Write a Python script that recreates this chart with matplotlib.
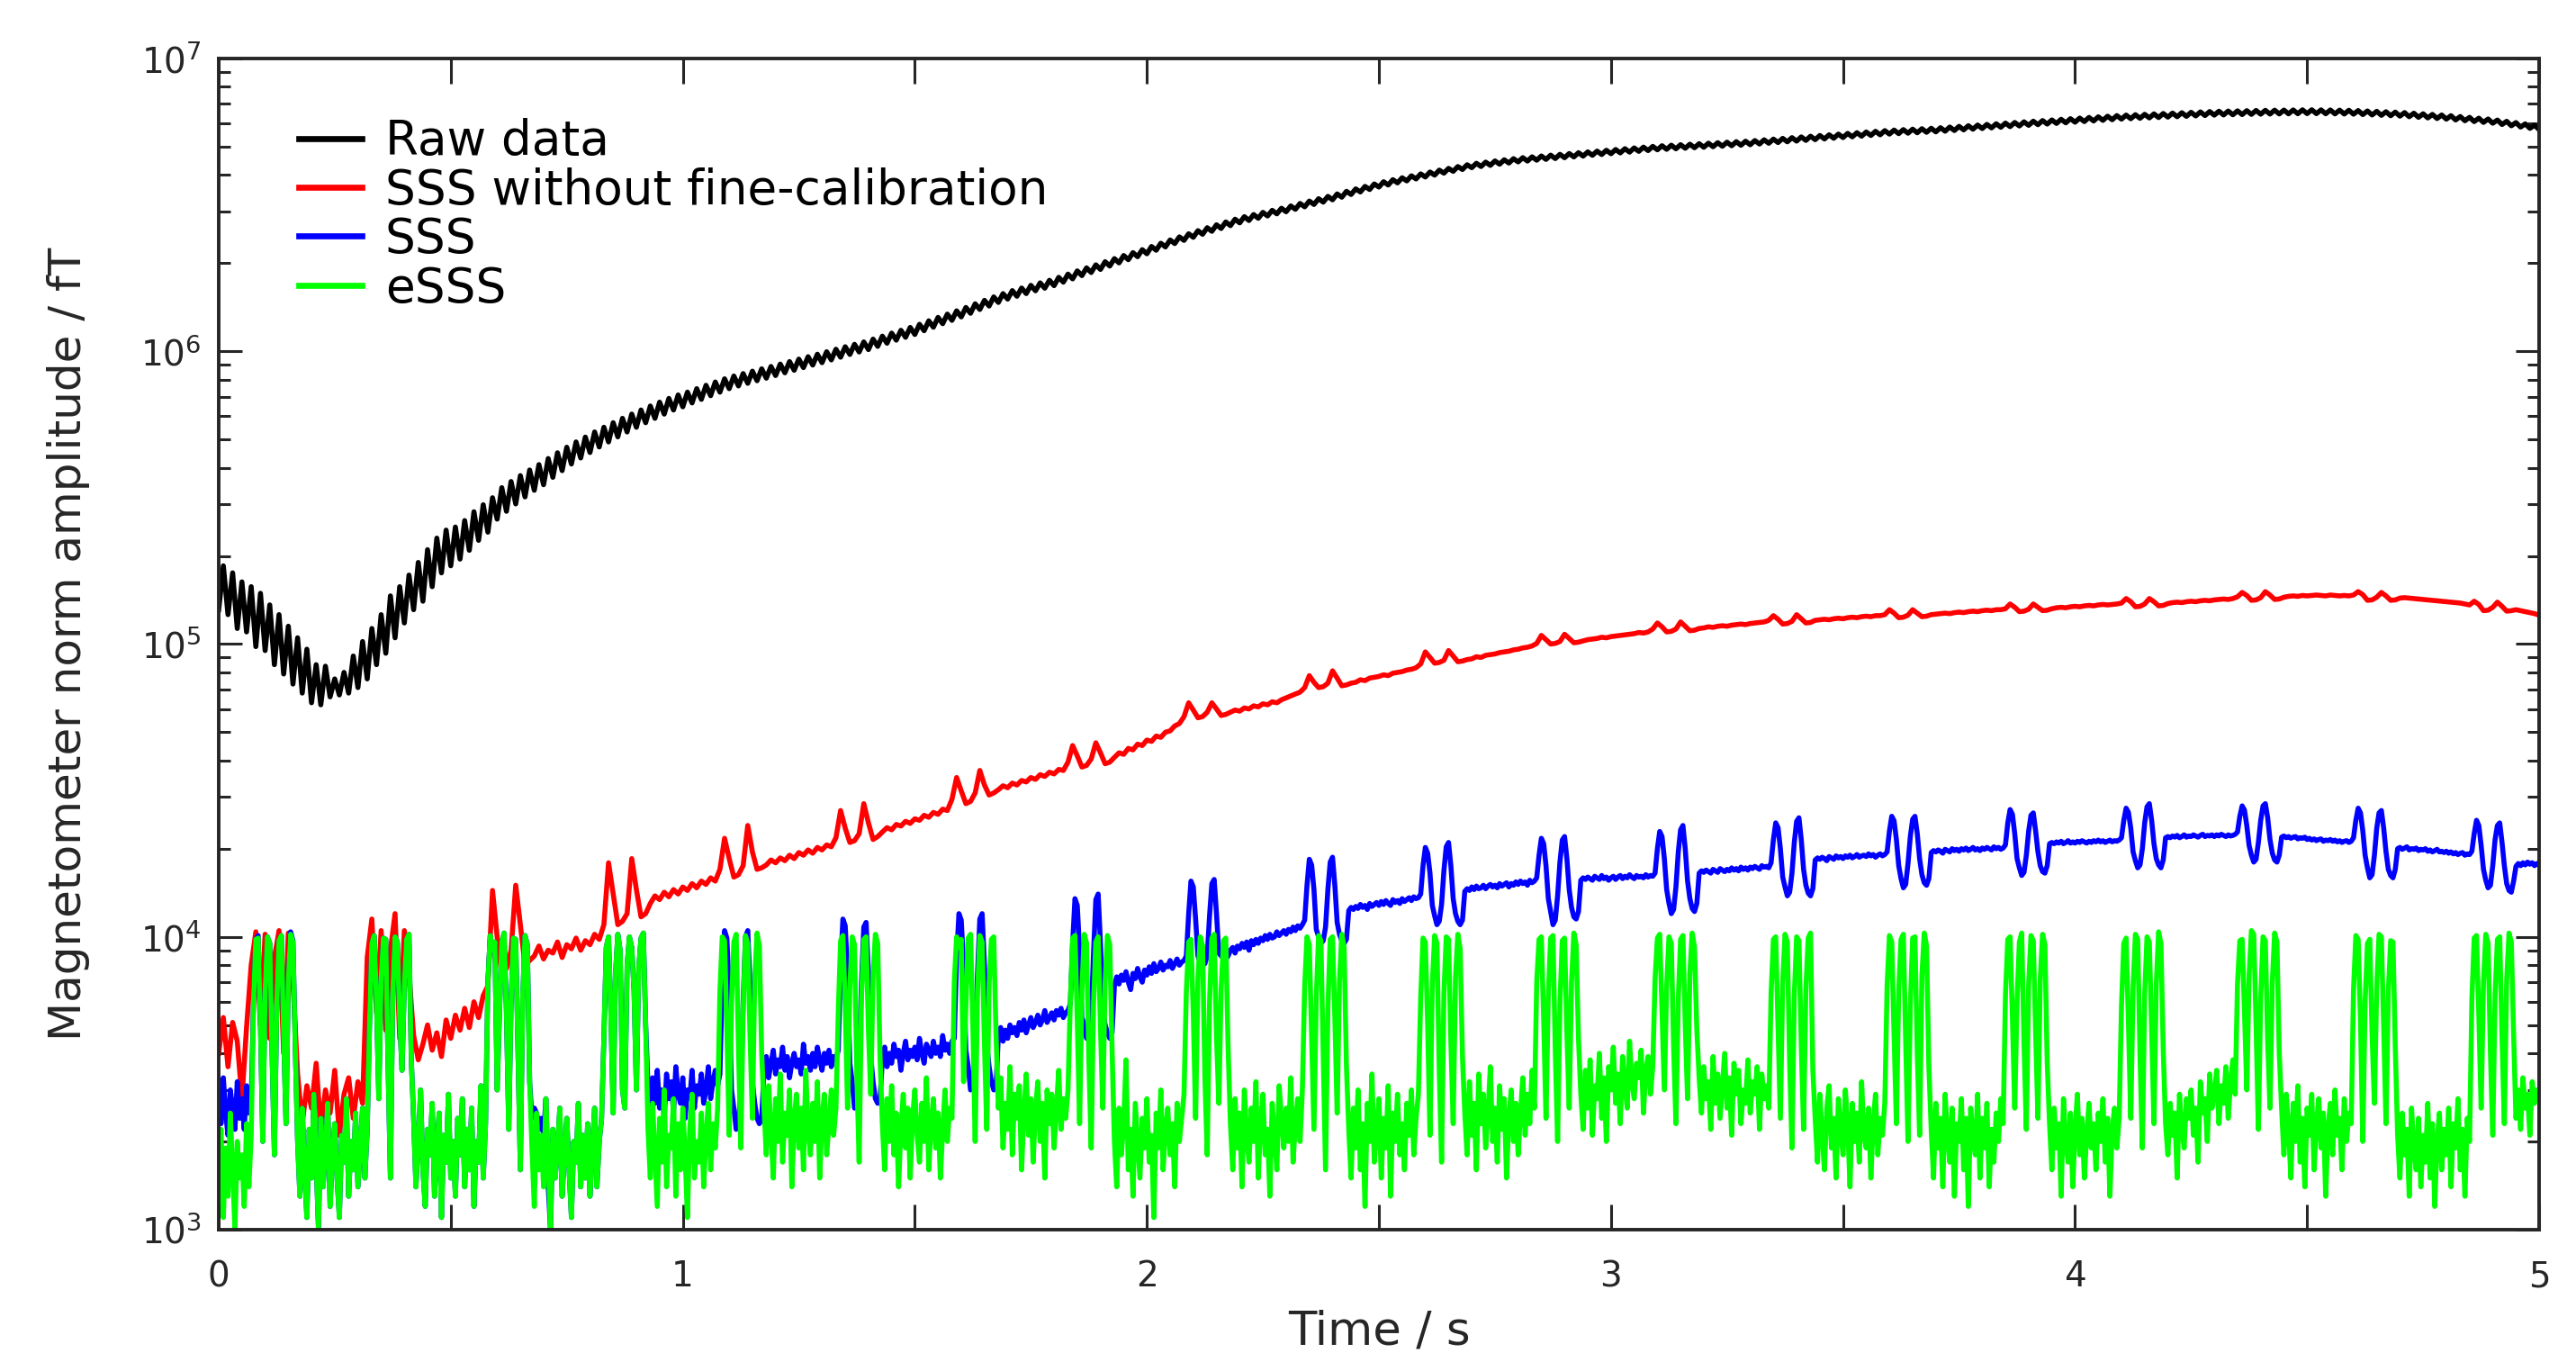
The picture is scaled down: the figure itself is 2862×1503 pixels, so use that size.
import numpy as np
import matplotlib.pyplot as plt
from matplotlib.ticker import LogLocator, NullFormatter

# values
# raw data, units of 1e5 fT, one sample every 0.01 s
raw_1e5 = [
    1.31, 1.85, 1.26, 1.75, 1.13, 1.63, 1.10, 1.57, 0.98, 1.49,
    0.95, 1.36, 0.85, 1.26, 0.79, 1.15, 0.73, 1.05, 0.68, 0.96,
    0.63, 0.85, 0.62, 0.84, 0.66, 0.76, 0.67, 0.80, 0.68, 0.91,
    0.71, 1.02, 0.76, 1.13, 0.85, 1.26, 0.93, 1.46, 1.05, 1.57,
    1.18, 1.72, 1.31, 1.90, 1.40, 2.10, 1.57, 2.30, 1.75, 2.45,
    1.85, 2.51, 1.95, 2.64, 2.09, 2.83, 2.26, 2.99, 2.41, 3.16,
    2.67, 3.42, 2.84, 3.59, 3.01, 3.76, 3.18, 3.93, 3.35, 4.10,
    3.50, 4.30, 3.71, 4.50, 3.91, 4.70, 4.12, 4.90, 4.32, 5.09,
    4.51, 5.30, 4.71, 5.50, 4.90, 5.70, 5.10, 5.90, 5.30, 6.10,
    5.50, 6.30, 5.70, 6.50, 5.90, 6.70, 6.10, 6.90, 6.30, 7.09,
    6.46, 7.25, 6.66, 7.45, 6.85, 7.65, 7.05, 7.85, 7.25, 8.05,
    7.45, 8.23, 7.61, 8.39, 7.77, 8.55, 7.93, 8.71, 8.09, 8.87,
    8.26, 9.04, 8.44, 9.22, 8.61, 9.40, 8.79, 9.58, 8.97, 9.77,
    9.14, 9.96, 9.34, 10.16, 9.54, 10.36, 9.75, 10.56, 9.94, 10.76,
    10.13, 11.00, 10.39, 11.26, 10.65, 11.53, 10.91, 11.79, 11.16, 12.06,
    11.41, 12.36, 11.75, 12.70, 12.08, 13.05, 12.42, 13.39, 12.75, 13.74,
    13.10, 14.11, 13.48, 14.52, 13.89, 14.92, 14.27, 15.33, 14.68, 15.73,
    15.07, 16.11, 15.41, 16.44, 15.74, 16.79, 16.09, 17.12, 16.42, 17.47,
    16.75, 17.88, 17.22, 18.34, 17.67, 18.81, 18.13, 19.26, 18.58, 19.73,
    19.03, 20.22, 19.54, 20.72, 20.03, 21.23, 20.54, 21.72, 21.03, 22.23,
    21.52, 22.79, 22.13, 23.38, 22.71, 23.99, 23.32, 24.58, 23.91, 25.19,
    24.50, 25.81, 25.09, 26.42, 25.68, 27.03, 26.26, 27.64, 26.85, 28.25,
    27.44, 28.82, 27.96, 29.30, 28.45, 29.81, 28.97, 30.29, 29.46, 30.79,
    29.95, 31.35, 30.54, 31.97, 31.13, 32.58, 31.72, 33.19, 32.31, 33.80,
    32.90, 34.46, 33.58, 35.17, 34.31, 35.85, 35.00, 36.56, 35.68, 37.27,
    36.37, 37.93, 36.96, 38.54, 37.59, 39.12, 38.18, 39.73, 38.77, 40.34,
    39.36, 40.94, 39.95, 41.55, 40.58, 42.12, 41.17, 42.73, 41.76, 43.34,
    42.36, 43.85, 42.75, 44.25, 43.14, 44.66, 43.54, 45.07, 43.93, 45.47,
    44.33, 45.83, 44.62, 46.13, 44.92, 46.44, 45.21, 46.74, 45.51, 47.05,
    45.80, 47.35, 46.10, 47.65, 46.39, 47.96, 46.69, 48.26, 46.98, 48.57,
    47.28, 48.87, 47.58, 49.18, 47.87, 49.48, 48.17, 49.79, 48.46, 50.09,
    48.76, 50.34, 48.95, 50.55, 49.15, 50.75, 49.35, 50.95, 49.55, 51.16,
    49.74, 51.36, 49.94, 51.56, 50.14, 51.77, 50.33, 51.97, 50.53, 52.17,
    50.73, 52.42, 51.02, 52.73, 51.32, 53.03, 51.61, 53.34, 51.91, 53.64,
    52.21, 53.95, 52.50, 54.25, 52.80, 54.56, 53.09, 54.86, 53.39, 55.17,
    53.68, 55.47, 53.98, 55.77, 54.27, 56.08, 54.57, 56.38, 54.86, 56.69,
    55.16, 56.94, 55.36, 57.14, 55.55, 57.35, 55.75, 57.55, 55.95, 57.75,
    56.15, 58.01, 56.44, 58.31, 56.74, 58.62, 57.03, 58.92, 57.33, 59.23,
    57.62, 59.53, 57.92, 59.83, 58.21, 60.14, 58.51, 60.44, 58.80, 60.75,
    59.10, 61.05, 59.40, 61.36, 59.69, 61.66, 59.99, 61.97, 60.28, 62.27,
    60.58, 62.57, 60.87, 62.88, 61.17, 63.18, 61.46, 63.49, 61.76, 63.79,
    62.06, 64.05, 62.25, 64.25, 62.45, 64.45, 62.65, 64.66, 62.84, 64.86,
    63.04, 65.06, 63.24, 65.26, 63.43, 65.47, 63.63, 65.67, 63.83, 65.87,
    64.03, 66.03, 64.12, 66.13, 64.22, 66.23, 64.32, 66.33, 64.42, 66.43,
    64.52, 66.51, 64.58, 66.57, 64.64, 66.63, 64.69, 66.70, 64.75, 66.76,
    64.81, 66.79, 64.79, 66.74, 64.73, 66.68, 64.67, 66.60, 64.60, 66.53,
    64.52, 66.38, 64.32, 66.18, 64.12, 65.98, 63.93, 65.77, 63.73, 65.57,
    63.53, 65.32, 63.24, 65.01, 62.94, 64.71, 62.65, 64.40, 62.35, 64.10,
    62.06, 63.74, 61.66, 63.34, 61.27, 62.93, 60.87, 62.52, 60.48, 62.12,
    60.09, 61.61, 59.49, 61.00, 58.90, 60.39, 58.31, 59.78, 57.72, 59.17,
    57.13,
]

# SSS without fine-calibration, units of 1e3 fT, every 0.01 s
sss_nofc_1e3 = [
    4.0, 5.3, 3.6, 5.1, 4.4, 2.8, 4.9, 8.0, 10.4, 5.0,
    10.2, 4.5, 8.5, 10.5, 4.0, 10.3, 7.0, 3.4, 2.3, 3.1,
    2.6, 3.7, 2.2, 3.0, 2.5, 3.5, 2.1, 2.9, 3.3, 2.4,
    3.2, 2.7, 8.5, 11.5, 5.5, 10.5, 4.8, 9.0, 12.0, 4.5,
    10.5, 7.5, 4.6, 3.8, 4.3, 5.0, 4.1, 4.7, 3.9, 5.2,
    4.5, 5.4, 4.8, 5.7, 4.9, 6.0, 5.3, 6.3, 6.8, 14.4,
    10.0, 7.4, 7.8, 9.0, 15.0, 11.0, 8.0, 8.3, 8.6, 9.3,
    8.4, 9.0, 8.8, 9.6, 8.5, 9.4, 9.1, 9.9, 9.0, 9.7,
    9.4, 10.2, 9.8, 11.0, 17.9, 14.0, 11.0, 11.3, 12.0, 18.5,
    14.5, 11.7, 12.0, 13.0, 13.8, 13.4, 14.2, 13.7, 14.5, 14.0,
    14.8, 14.4, 15.2, 14.7, 15.5, 15.1, 15.9, 15.5, 17.0, 21.7,
    18.5, 16.0, 16.3, 17.5, 24.0, 19.5, 17.0, 17.2, 17.6, 18.3,
    17.9, 18.6, 18.2, 19.0, 18.5, 19.4, 19.0, 19.8, 19.3, 20.2,
    19.8, 20.6, 20.3, 21.8, 27.0, 23.5, 21.0, 21.3, 22.5, 28.5,
    24.5, 21.5, 22.0, 22.8, 23.6, 23.2, 24.2, 23.9, 24.8, 24.4,
    25.3, 25.0, 26.0, 25.6, 26.6, 26.2, 27.3, 27.0, 29.5, 35.0,
    31.5, 28.5, 29.0, 31.0, 37.0, 33.0, 30.5, 31.0, 31.8, 32.8,
    32.3, 33.5, 33.0, 34.2, 33.8, 35.0, 34.5, 35.8, 35.3, 36.5,
    36.0, 37.3, 37.0, 39.5, 45.0, 41.5, 38.0, 38.5, 40.5, 46.0,
    42.5, 39.0, 39.5, 41.0, 42.5, 42.0, 44.0, 43.5, 45.5, 45.0,
    47.0, 46.5, 48.5, 48.0, 50.0, 50.5, 52.5, 53.5, 56.5, 63.0,
    59.5, 56.0, 56.5, 58.5, 63.0, 60.0, 57.0, 57.5, 58.5, 59.5,
    59.0, 60.5, 60.0, 61.5, 61.0, 62.5, 62.0, 63.5, 63.0, 64.5,
    65.5, 66.5, 67.5, 68.5, 71.0, 78.0, 74.0, 71.0, 71.5, 73.5,
    81.0, 76.5, 72.0, 72.5, 73.5, 74.0, 75.5, 75.0, 76.5, 77.0,
    77.5, 78.5, 78.0, 79.5, 80.0, 80.5, 81.5, 82.0, 83.0, 85.5,
    94.0, 90.0, 86.0, 86.5, 88.0, 95.0, 91.0, 87.0, 87.5, 88.5,
    89.0, 90.5, 90.0, 91.5, 92.0, 92.5, 93.5, 94.0, 94.5, 95.5,
    96.0, 97.0, 97.5, 98.5, 100.5, 107.0, 103.5, 100.0, 100.5, 102.0,
    108.0, 104.5, 101.0, 101.5, 102.5, 103.5, 104.0, 104.5, 105.5, 105.0,
    106.0, 106.5, 107.0, 107.5, 108.0, 108.5, 109.5, 109.0, 110.0, 112.5,
    118.0, 114.5, 110.0, 110.5, 112.5, 119.0, 115.0, 111.0, 111.5, 113.0,
    113.5, 114.5, 114.0, 115.0, 115.5, 115.0, 116.0, 116.5, 117.0, 116.5,
    117.5, 118.0, 118.5, 119.0, 120.5, 125.0, 121.5, 117.0, 117.5, 119.5,
    126.0, 122.0, 118.0, 118.5, 120.5, 121.0, 121.5, 121.0, 122.0, 122.5,
    122.0, 123.0, 123.5, 123.0, 124.0, 124.5, 124.0, 125.0, 125.0, 126.0,
    131.0, 127.5, 123.0, 123.5, 125.5, 131.0, 127.5, 124.0, 124.5, 126.0,
    126.5, 127.0, 127.5, 127.0, 128.0, 128.5, 128.0, 129.0, 129.5, 129.0,
    130.0, 130.5, 130.0, 131.0, 131.0, 132.0, 137.0, 133.5, 129.0, 129.5,
    131.5, 137.0, 133.5, 130.0, 130.5, 132.0, 133.0, 133.5, 133.0, 134.0,
    134.5, 134.0, 135.0, 135.5, 135.0, 136.0, 136.5, 136.0, 136.5, 137.0,
    138.0, 143.0, 139.5, 134.0, 134.5, 137.0, 143.0, 139.5, 135.0, 135.5,
    137.5, 138.5, 139.0, 138.5, 139.5, 140.0, 139.5, 140.5, 141.0, 140.5,
    141.5, 142.0, 142.5, 142.0, 143.0, 145.0, 150.0, 146.5, 141.0, 141.5,
    144.0, 151.0, 147.0, 142.0, 142.5, 144.5, 145.5, 146.0, 145.5, 146.5,
    146.0, 146.5, 147.0, 146.5, 146.0, 147.0, 146.5, 146.0, 146.5, 146.0,
    147.0, 151.0, 147.5, 141.0, 141.5, 144.5, 150.0, 146.0, 141.0, 141.5,
    143.5, 144.0, 143.5, 143.0, 142.5, 142.0, 141.5, 141.0, 140.5, 140.0,
    139.5, 139.0, 138.5, 138.0, 137.0, 136.0, 140.0, 136.5, 130.0, 130.5,
    133.5, 139.0, 134.5, 129.5, 130.0, 131.0, 130.0, 129.0, 128.0, 127.0,
    125.5,
]

# SSS, units of 1e3 fT, every 0.005 s
sss_1e3 = [
    2.9, 2.3, 3.3, 2.5, 2.1, 3.0, 2.6, 2.2, 3.2, 2.4,
    2.8, 2.2, 3.1, 2.5, 2.7, 6.0, 9.8, 10.1, 5.0, 2.0,
    6.5, 10.0, 9.5, 4.0, 1.8, 5.8, 9.7, 10.1, 4.6, 2.3,
    7.0, 10.4, 9.7, 4.2, 2.0, 1.3, 2.6, 1.6, 1.1, 2.2,
    1.5, 2.9, 1.7, 1.0, 2.4, 1.4, 1.9, 2.7, 1.2, 1.8,
    2.3, 1.5, 1.1, 2.1, 1.7, 2.8, 1.3, 2.0, 1.6, 2.5,
    1.4, 1.9, 2.6, 1.5, 2.2, 5.0, 9.5, 10.1, 6.0, 2.8,
    7.2, 9.9, 9.8, 3.6, 1.5, 6.4, 10.0, 9.6, 5.2, 3.5,
    6.8, 9.8, 10.2, 3.8, 2.4, 1.4, 2.0, 3.0, 1.6, 1.2,
    2.2, 1.8, 2.7, 1.3, 1.9, 2.5, 1.1, 2.1, 1.7, 2.9,
    1.5, 2.0, 1.3, 2.4, 1.8, 2.8, 1.4, 2.2, 1.6, 2.6,
    1.2, 2.0, 1.7, 3.1, 1.5, 2.3, 7.0, 10.1, 9.0, 9.6,
    3.0, 5.5, 9.6, 10.3, 5.5, 2.2, 6.0, 9.9, 9.8, 4.0,
    1.6, 6.2, 10.1, 9.4, 3.2, 2.4, 2.6, 2.5, 2.2, 2.4,
    2.1, 2.8, 1.4, 1.0, 2.2, 1.5, 1.9, 2.6, 1.3, 1.8,
    2.4, 1.6, 1.1, 2.0, 1.7, 2.7, 1.4, 2.1, 1.5, 2.3,
    1.3, 1.9, 2.6, 1.4, 2.0, 2.4, 4.5, 9.2, 10.0, 5.5,
    2.5, 7.5, 10.2, 9.0, 3.0, 2.6, 8.0, 10.0, 9.2, 6.5,
    3.0, 7.8, 9.9, 10.3, 5.0, 3.1, 2.5, 3.3, 2.7, 3.5,
    2.6, 3.0, 2.4, 3.4, 2.8, 3.2, 2.5, 3.6, 2.9, 2.7,
    3.3, 2.4, 3.0, 2.8, 3.5, 2.6, 3.1, 2.9, 3.4, 2.7,
    3.0, 3.6, 2.8, 3.2, 3.5, 3.1, 3.4, 7.0, 10.5, 9.9,
    6.5, 3.0, 2.6, 2.2, 2.3, 3.0, 6.0, 10.0, 10.5, 6.8,
    3.2, 2.7, 2.4, 2.3, 2.4, 3.5, 3.9, 3.3, 3.7, 4.1,
    3.4, 3.8, 3.6, 4.2, 3.5, 3.9, 3.3, 3.7, 4.0, 3.6,
    3.8, 3.4, 4.3, 3.7, 3.9, 3.5, 4.0, 3.6, 4.2, 3.8,
    3.5, 4.0, 3.7, 4.1, 3.6, 3.9, 3.8, 4.1, 8.0, 11.5,
    10.9, 7.5, 3.7, 3.2, 2.6, 2.7, 3.7, 7.0, 10.8, 11.2,
    7.5, 3.9, 3.2, 2.8, 2.7, 2.8, 3.8, 4.2, 3.6, 4.0,
    3.7, 4.3, 3.9, 4.1, 3.5, 4.0, 4.4, 3.8, 4.1, 3.9,
    4.2, 3.8, 4.5, 4.0, 3.7, 4.3, 4.1, 3.9, 4.4, 4.0,
    4.2, 3.9, 4.6, 4.1, 4.3, 4.0, 4.4, 4.5, 8.5, 12.0,
    11.4, 8.0, 4.1, 3.6, 3.0, 3.1, 4.1, 7.5, 11.5, 12.0,
    8.0, 4.3, 3.6, 3.2, 3.0, 3.1, 4.6, 4.9, 4.4, 4.8,
    4.5, 5.0, 4.7, 4.9, 4.6, 5.1, 4.8, 5.2, 4.7, 5.0,
    5.3, 4.9, 5.1, 5.4, 5.0, 5.2, 5.6, 5.1, 5.3, 5.5,
    5.2, 5.6, 5.4, 5.7, 5.3, 5.5, 5.6, 5.9, 9.5, 13.5,
    12.8, 9.0, 5.3, 5.0, 4.5, 4.6, 5.3, 8.8, 13.4, 14.0,
    9.5, 5.6, 5.0, 4.7, 4.5, 4.7, 6.8, 7.3, 6.9, 7.4,
    7.1, 7.6, 7.0, 6.6, 7.5, 7.2, 7.8, 7.3, 7.0, 7.7,
    7.4, 7.9, 7.5, 8.1, 7.6, 7.8, 8.2, 7.7, 8.0, 7.9,
    8.3, 7.8, 8.1, 8.4, 8.0, 8.2, 8.3, 8.6, 12.0, 15.5,
    14.8, 11.5, 8.6, 8.2, 8.0, 8.1, 8.6, 11.8, 15.2, 15.7,
    12.0, 8.8, 8.6, 8.5, 8.4, 8.6, 9.0, 9.2, 8.8, 9.3,
    9.1, 9.5, 9.2, 9.6, 9.0, 9.7, 9.4, 9.8, 9.5, 9.9,
    9.7, 10.1, 9.8, 10.2, 9.9, 10.0, 10.4, 10.1, 10.3, 10.5,
    10.2, 10.6, 10.4, 10.8, 10.5, 10.9, 10.7, 11.0, 11.4, 15.0,
    18.4, 17.6, 14.5, 10.6, 10.0, 9.5, 9.7, 10.8, 14.5, 18.0,
    18.7, 15.0, 11.2, 10.2, 9.7, 9.5, 9.8, 12.3, 12.6, 12.4,
    12.7, 12.5, 12.9, 12.6, 12.8, 12.4, 13.0, 12.7, 12.9, 13.1,
    12.8, 13.2, 12.9, 13.3, 13.0, 12.8, 13.4, 13.1, 13.3, 13.0,
    13.5, 13.2, 13.4, 13.6, 13.3, 13.7, 13.5, 13.6, 14.0, 17.5,
    20.2, 19.3, 16.5, 12.8, 11.8, 11.0, 11.3, 12.9, 16.8, 20.3,
    21.0, 17.5, 13.5, 12.0, 11.3, 11.0, 11.4, 14.3, 14.6, 14.4,
    14.8, 14.5, 14.9, 14.6, 14.7, 15.0, 14.6, 14.9, 15.1, 14.8,
    15.0, 14.7, 15.2, 14.9, 15.1, 15.3, 14.8, 15.2, 15.0, 15.4,
    15.1, 15.5, 15.2, 15.4, 15.0, 15.6, 15.3, 15.5, 15.9, 19.0,
    21.7, 20.8, 17.5, 13.5, 12.2, 11.0, 11.4, 13.8, 18.0, 21.4,
    22.0, 18.5, 14.5, 12.6, 11.7, 11.5, 12.2, 15.6, 15.9, 15.7,
    16.0, 15.8, 15.6, 16.1, 15.9, 15.7, 16.2, 15.8, 16.0, 15.6,
    15.9, 16.1, 15.7, 16.0, 16.2, 15.8, 16.1, 15.9, 16.3, 16.0,
    15.8, 16.2, 16.0, 16.1, 15.9, 16.3, 16.0, 16.2, 16.1, 16.5,
    20.0, 22.9, 22.0, 18.5, 14.5, 13.0, 12.0, 12.4, 14.8, 19.5,
    23.2, 24.0, 20.0, 15.5, 13.5, 12.5, 12.2, 13.0, 16.5, 16.8,
    16.6, 16.9, 16.7, 16.5, 17.0, 16.8, 16.6, 17.1, 16.9, 16.7,
    17.0, 16.8, 17.2, 16.9, 17.1, 16.8, 17.3, 17.0, 17.2, 16.9,
    17.3, 17.1, 17.4, 17.2, 17.0, 17.5, 17.3, 17.4, 17.2, 17.9,
    21.5, 24.5, 23.6, 20.0, 16.0, 14.8, 13.8, 14.2, 16.5, 21.0,
    24.8, 25.5, 21.5, 17.0, 15.0, 14.1, 13.8, 14.6, 18.3, 18.6,
    18.4, 18.7, 18.5, 18.2, 18.8, 18.6, 18.4, 18.9, 18.6, 18.8,
    18.5, 18.9, 18.7, 19.0, 18.6, 18.8, 19.1, 18.7, 18.9, 19.0,
    18.8, 19.2, 18.9, 19.1, 18.7, 19.0, 19.2, 18.9, 19.1, 19.5,
    23.0, 25.8, 24.9, 21.5, 17.5, 15.8, 14.7, 15.1, 17.8, 22.0,
    25.2, 25.8, 22.5, 18.5, 16.3, 15.3, 15.0, 15.8, 19.4, 19.7,
    19.5, 19.8, 19.6, 19.3, 19.9, 19.7, 19.5, 20.0, 19.7, 19.9,
    19.6, 20.0, 19.8, 20.1, 19.7, 19.9, 20.2, 19.8, 20.0, 19.7,
    20.1, 19.9, 20.2, 20.0, 19.8, 20.3, 20.0, 20.2, 19.9, 20.1,
    20.6, 24.5, 27.2, 26.2, 22.5, 18.5, 17.2, 16.2, 16.6, 19.0,
    23.0, 26.0, 26.5, 23.0, 19.5, 17.5, 16.7, 16.5, 17.5, 20.8,
    21.0, 20.8, 21.1, 20.9, 21.2, 20.8, 21.0, 21.3, 20.9, 21.1,
    20.9, 21.2, 21.0, 21.3, 21.1, 20.9, 21.2, 21.0, 21.3, 21.1,
    21.4, 21.1, 21.3, 21.0, 21.2, 21.4, 21.1, 21.3, 21.2, 21.4,
    21.8, 25.0, 27.5, 26.6, 23.5, 19.5, 18.2, 17.2, 17.6, 20.0,
    24.5, 27.8, 28.5, 25.0, 20.8, 18.5, 17.6, 17.2, 18.3, 21.8,
    22.0, 21.8, 22.1, 21.9, 22.2, 21.8, 22.0, 22.3, 21.9, 22.1,
    22.0, 22.3, 22.1, 21.9, 22.2, 22.4, 22.0, 22.2, 22.1, 22.3,
    22.0, 22.3, 22.1, 22.4, 22.2, 22.0, 22.3, 22.1, 22.2, 22.4,
    22.8, 25.8, 28.0, 27.1, 24.0, 20.5, 19.0, 18.0, 18.4, 21.0,
    25.0, 28.0, 28.5, 25.5, 21.5, 19.3, 18.3, 18.0, 19.0, 21.9,
    22.1, 21.8, 22.0, 21.7, 21.9, 22.0, 21.6, 21.8, 21.7, 21.9,
    21.5, 21.7, 21.4, 21.6, 21.3, 21.5, 21.6, 21.2, 21.4, 21.3,
    21.5, 21.2, 21.4, 21.1, 21.3, 21.0, 21.2, 21.3, 21.0, 21.2,
    21.8, 25.0, 27.5, 26.5, 23.0, 19.0, 17.2, 15.9, 16.3, 19.0,
    23.5, 26.5, 27.0, 23.5, 19.5, 17.0, 16.2, 15.9, 17.0, 20.0,
    20.2, 19.9, 20.1, 20.3, 19.8, 20.0, 19.9, 20.1, 19.7, 19.9,
    19.8, 20.0, 19.6, 19.8, 19.5, 19.7, 19.9, 19.5, 19.6, 19.4,
    19.6, 19.3, 19.5, 19.2, 19.4, 19.1, 19.3, 19.4, 19.0, 19.2,
    19.1, 19.6, 22.5, 25.0, 24.0, 20.5, 17.0, 15.6, 14.7, 15.0,
    17.5, 21.5, 24.0, 24.5, 21.0, 17.5, 15.2, 14.4, 14.2, 15.5,
    17.4, 17.8, 17.5, 17.9, 17.6, 18.0, 17.7, 17.9, 17.5, 17.8,
    17.6,
]

# eSSS, units of 1e3 fT, every 0.005 s
esss_1e3 = [
    1.4, 2.2, 1.1, 1.9, 1.3, 2.5, 1.6, 1.0, 2.0, 1.5,
    1.8, 1.2, 2.3, 1.4, 2.1, 6.0, 9.8, 9.9, 5.0, 2.0,
    6.5, 10.0, 9.5, 4.0, 1.8, 5.8, 9.7, 10.1, 4.6, 2.3,
    7.0, 10.2, 9.6, 4.2, 2.0, 1.3, 2.6, 1.6, 1.1, 2.2,
    1.5, 2.9, 1.7, 1.0, 2.4, 1.4, 1.9, 2.7, 1.2, 1.8,
    2.3, 1.5, 1.1, 2.1, 1.7, 2.8, 1.3, 2.0, 1.6, 2.5,
    1.4, 1.9, 2.6, 1.5, 2.2, 5.0, 9.5, 10.1, 6.0, 2.8,
    7.2, 9.9, 9.8, 3.6, 1.5, 6.4, 10.0, 9.6, 5.2, 3.5,
    6.8, 9.8, 10.2, 3.8, 2.4, 1.4, 2.0, 3.0, 1.6, 1.2,
    2.2, 1.8, 2.7, 1.3, 1.9, 2.5, 1.1, 2.1, 1.7, 2.9,
    1.5, 2.0, 1.3, 2.4, 1.8, 2.8, 1.4, 2.2, 1.6, 2.6,
    1.2, 2.0, 1.7, 3.1, 1.5, 2.3, 7.0, 10.1, 9.0, 9.6,
    3.0, 5.5, 9.6, 10.3, 5.5, 2.2, 6.0, 9.9, 9.8, 4.0,
    1.6, 6.2, 10.1, 9.4, 3.2, 1.9, 1.2, 2.5, 1.6, 2.1,
    1.4, 2.8, 1.7, 1.0, 2.2, 1.5, 1.9, 2.6, 1.3, 1.8,
    2.4, 1.6, 1.1, 2.0, 1.7, 2.7, 1.4, 2.1, 1.5, 2.3,
    1.3, 1.9, 2.6, 1.4, 2.0, 2.4, 4.5, 9.2, 10.0, 5.5,
    2.5, 7.5, 10.2, 9.0, 3.0, 2.6, 8.0, 10.0, 9.2, 6.5,
    3.0, 7.8, 9.9, 10.3, 5.0, 2.2, 1.5, 2.7, 1.8, 1.2,
    2.4, 1.7, 3.0, 1.4, 2.1, 1.9, 2.8, 1.3, 2.3, 1.6,
    2.6, 1.8, 1.1, 2.2, 2.9, 1.5, 2.0, 1.7, 2.5, 1.4,
    2.1, 2.7, 1.6, 2.3, 1.9, 2.6, 6.5, 10.0, 9.7, 4.8,
    2.1, 6.0, 9.6, 10.2, 4.2, 1.9, 5.6, 10.1, 9.5, 4.5,
    2.4, 7.2, 10.3, 9.3, 4.0, 2.6, 1.8, 3.1, 2.2, 1.5,
    2.8, 2.0, 3.4, 1.7, 2.5, 2.1, 3.0, 1.4, 2.4, 2.9,
    1.9, 2.6, 1.6, 3.5, 2.2, 1.8, 2.7, 2.0, 3.2, 1.5,
    2.4, 2.9, 1.8, 2.3, 3.0, 2.1, 2.6, 5.5, 9.7, 10.1,
    5.8, 2.6, 6.8, 10.0, 9.4, 3.4, 1.7, 6.2, 9.8, 10.0,
    4.8, 2.9, 7.4, 10.2, 9.5, 3.9, 2.3, 1.6, 2.8, 2.0,
    3.1, 1.8, 2.5, 1.4, 2.2, 2.9, 1.9, 2.6, 1.5, 2.4,
    3.0, 2.1, 1.7, 2.7, 2.0, 3.3, 1.6, 2.3, 2.8, 1.9,
    2.5, 1.5, 2.2, 3.0, 2.0, 2.6, 2.4, 7.0, 10.0, 9.2,
    9.8, 3.2, 5.8, 9.9, 10.2, 5.0, 2.0, 6.5, 10.1, 9.6,
    4.3, 2.2, 6.9, 9.8, 10.0, 4.6, 2.6, 3.3, 1.9, 2.7,
    2.2, 3.6, 1.8, 2.9, 2.4, 3.1, 1.6, 2.5, 3.4, 2.1,
    2.8, 1.7, 2.6, 3.2, 2.0, 2.7, 1.5, 3.0, 2.3, 2.9,
    1.9, 2.6, 3.5, 2.2, 2.8, 2.4, 3.0, 6.0, 9.9, 10.1,
    5.2, 2.3, 6.6, 10.2, 9.5, 3.8, 1.9, 5.9, 9.6, 10.0,
    4.9, 2.6, 7.0, 10.1, 9.4, 4.1, 2.0, 1.4, 2.6, 1.8,
    2.3, 3.8, 1.6, 2.2, 1.3, 2.7, 2.0, 1.5, 2.4, 1.9,
    2.8, 1.7, 2.1, 1.1, 2.5, 1.9, 3.0, 1.6, 2.2, 2.6,
    1.8, 2.3, 1.4, 2.7, 2.0, 2.4, 2.9, 6.5, 9.6, 9.8,
    5.5, 2.4, 7.2, 10.0, 9.3, 3.3, 1.8, 6.0, 9.9, 10.2,
    4.6, 2.7, 6.6, 9.7, 9.9, 4.2, 2.3, 1.6, 2.8, 1.9,
    2.5, 1.4, 3.0, 2.1, 1.7, 2.6, 2.0, 3.2, 1.5, 2.3,
    2.9, 1.8, 2.2, 1.3, 2.7, 2.1, 1.6, 3.1, 2.4, 1.9,
    2.6, 2.0, 3.3, 1.7, 2.3, 2.8, 2.0, 3.0, 6.8, 10.0,
    9.4, 4.5, 2.2, 6.2, 10.1, 9.7, 4.0, 1.6, 5.7, 9.8,
    10.0, 5.3, 2.5, 7.1, 10.2, 9.2, 3.6, 2.2, 1.5, 2.6,
    1.9, 3.0, 1.6, 2.3, 1.2, 2.7, 2.0, 3.4, 1.7, 2.2,
    2.8, 1.5, 2.4, 1.9, 3.1, 1.3, 2.5, 2.0, 2.9, 1.8,
    2.3, 1.6, 2.7, 2.1, 3.0, 1.8, 2.4, 2.9, 6.2, 9.9,
    9.6, 5.0, 2.1, 6.9, 10.1, 9.5, 3.5, 1.7, 6.4, 10.0,
    9.8, 4.4, 2.3, 7.3, 10.2, 9.1, 3.9, 2.5, 1.8, 3.2,
    2.1, 2.7, 1.6, 3.4, 2.3, 2.9, 1.9, 2.5, 3.6, 2.0,
    2.6, 1.7, 3.1, 2.2, 2.8, 1.5, 2.4, 3.0, 2.0, 2.7,
    1.8, 2.5, 3.3, 2.1, 2.9, 2.3, 3.5, 2.6, 7.0, 9.8,
    10.0, 5.2, 2.4, 6.4, 9.9, 10.1, 4.1, 2.0, 5.9, 9.7,
    9.9, 4.7, 2.6, 7.0, 10.3, 9.4, 4.5, 2.9, 2.2, 3.5,
    2.6, 3.8, 2.1, 3.1, 2.8, 4.0, 2.4, 3.3, 2.0, 3.6,
    3.0, 4.2, 2.7, 3.4, 2.3, 3.9, 3.1, 2.6, 4.4, 3.2,
    2.8, 3.7, 3.3, 4.1, 2.5, 3.5, 3.9, 2.9, 3.6, 7.2,
    9.9, 10.2, 5.6, 3.0, 6.8, 10.0, 9.5, 4.2, 2.3, 6.1,
    9.8, 10.1, 5.0, 2.8, 7.5, 10.3, 9.2, 4.8, 3.3, 2.5,
    3.6, 2.8, 3.2, 2.2, 3.9, 2.7, 3.4, 2.4, 3.1, 4.0,
    2.6, 3.3, 2.1, 3.7, 2.9, 3.5, 2.3, 3.0, 2.7, 3.8,
    2.5, 3.2, 2.9, 3.6, 2.2, 3.4, 2.8, 3.1, 2.6, 6.4,
    9.8, 10.0, 4.9, 2.4, 7.0, 10.2, 9.6, 3.7, 1.9, 6.3,
    10.0, 9.7, 4.3, 2.2, 6.7, 9.9, 10.3, 3.5, 2.4, 1.7,
    2.9, 2.1, 1.6, 2.6, 3.1, 1.9, 2.4, 1.5, 2.8, 2.2,
    1.8, 3.0, 2.3, 1.4, 2.7, 2.0, 2.5, 1.7, 3.2, 2.1,
    1.9, 2.6, 1.5, 2.3, 2.9, 1.8, 2.4, 2.1, 2.7, 6.8,
    10.1, 9.6, 4.6, 2.3, 6.6, 9.8, 10.2, 4.4, 2.0, 5.8,
    9.9, 10.0, 4.0, 2.1, 7.4, 10.3, 9.3, 3.6, 2.2, 1.5,
    2.7, 1.9, 2.4, 1.4, 2.9, 2.1, 1.7, 2.6, 1.3, 2.3,
    2.0, 2.8, 1.6, 2.4, 1.2, 2.6, 2.1, 1.8, 2.9, 1.5,
    2.4, 1.9, 2.7, 1.4, 2.2, 1.7, 2.5, 2.0, 2.8, 2.3,
    6.3, 9.8, 10.0, 5.3, 2.6, 6.1, 9.6, 10.3, 4.3, 2.2,
    6.9, 10.1, 9.7, 4.7, 2.4, 7.2, 10.2, 9.4, 3.7, 2.3,
    1.6, 2.6, 1.9, 2.3, 1.3, 2.8, 2.0, 1.7, 2.5, 1.4,
    2.2, 2.9, 1.8, 2.4, 1.5, 2.1, 2.7, 1.9, 2.3, 1.6,
    2.5, 2.0, 2.8, 1.7, 2.4, 1.3, 2.2, 2.6, 1.9, 2.4,
    5.8, 9.5, 9.9, 5.1, 2.4, 6.7, 10.2, 9.8, 3.9, 1.9,
    6.4, 10.0, 9.6, 4.8, 2.3, 6.9, 10.4, 9.5, 4.1, 2.3,
    1.8, 2.7, 2.1, 2.5, 1.5, 2.9, 2.2, 1.9, 2.8, 2.4,
    3.0, 2.1, 2.6, 1.7, 3.2, 2.5, 2.8, 2.0, 3.4, 2.6,
    2.9, 3.5, 2.3, 3.1, 2.7, 3.6, 2.4, 3.2, 3.8, 2.9,
    6.9, 9.7, 9.8, 5.6, 3.0, 7.4, 10.5, 10.2, 5.0, 2.2,
    6.2, 10.0, 9.7, 4.4, 2.6, 7.0, 10.3, 9.6, 4.0, 2.6,
    1.8, 2.9, 2.2, 1.5, 2.7, 2.0, 3.1, 1.7, 2.4, 1.4,
    2.6, 2.1, 2.9, 1.6, 2.3, 2.8, 1.9, 2.5, 1.3, 2.2,
    2.7, 1.8, 3.0, 2.1, 2.4, 1.6, 2.8, 2.0, 2.5, 2.3,
    6.6, 10.1, 9.8, 5.2, 2.0, 6.0, 9.5, 9.8, 4.6, 2.7,
    6.8, 10.2, 10.0, 4.9, 2.3, 6.5, 9.7, 9.6, 4.2, 2.1,
    1.5, 2.5, 1.8, 2.2, 1.3, 2.6, 1.9, 1.6, 2.4, 1.4,
    2.1, 1.7, 2.7, 1.5, 2.3, 1.2, 2.0, 2.5, 1.6, 2.2,
    1.8, 2.6, 1.4, 2.3, 1.9, 2.8, 1.6, 2.2, 1.3, 2.4,
    2.0, 6.1, 9.9, 10.1, 5.4, 2.6, 7.0, 10.2, 9.5, 4.0,
    2.1, 6.3, 9.8, 10.0, 4.5, 2.3, 7.1, 10.3, 9.6, 4.6,
    2.4, 3.0, 2.2, 3.3, 2.6, 2.9, 2.1, 3.2, 2.7, 3.0,
    2.8,
]

series_labels = ["Raw data", "SSS without fine-calibration", "SSS", "eSSS"]
series_colors = ["#000000", "#ff0000", "#0000ff", "#00ff00"]

t_slow = np.arange(len(raw_1e5)) * 0.01
t_red = np.arange(len(sss_nofc_1e3)) * 0.01
t_blue = np.arange(len(sss_1e3)) * 0.005
t_green = np.arange(len(esss_1e3)) * 0.005

axis_col = "#262626"
lw = 2.0

fig = plt.figure(figsize=(14.31, 7.515), dpi=200)
ax = fig.add_axes([0.0849, 0.0912, 0.9008, 0.8656])

ax.plot(t_slow, np.array(raw_1e5) * 1e5, color=series_colors[0], lw=lw, label=series_labels[0])
ax.plot(t_red, np.array(sss_nofc_1e3) * 1e3, color=series_colors[1], lw=lw, label=series_labels[1])
ax.plot(t_blue, np.array(sss_1e3) * 1e3, color=series_colors[2], lw=lw, label=series_labels[2])
ax.plot(t_green, np.array(esss_1e3) * 1e3, color=series_colors[3], lw=lw, label=series_labels[3])

ax.set_yscale("log")
ax.set_xlim(0, 5)
ax.set_ylim(1e3, 1e7)

xt = np.arange(0, 5.01, 0.5)
ax.set_xticks(xt)
ax.set_xticklabels([str(int(v)) if v == int(v) else "" for v in xt])
ax.yaxis.set_major_locator(LogLocator(base=10, numticks=10))
ax.yaxis.set_minor_locator(LogLocator(base=10, subs=np.arange(2, 10), numticks=20))
ax.yaxis.set_minor_formatter(NullFormatter())

ax.tick_params(which="both", direction="in", top=True, right=True, colors=axis_col)
ax.tick_params(axis="x", which="major", length=10, width=1.1, labelsize=14, pad=12)
ax.tick_params(axis="y", which="major", length=9.4, width=1.1, labelsize=14, pad=7)
ax.tick_params(axis="y", which="minor", length=4.7, width=1.1)
for s in ax.spines.values():
    s.set_linewidth(1.4)
    s.set_color(axis_col)

ax.set_xlabel("Time / s", fontsize=18.5, color=axis_col)
ax.set_ylabel("Magnetometer norm amplitude / fT", fontsize=18, color=axis_col)
ax.xaxis.set_label_coords(0.5, -0.068)
ax.yaxis.set_label_coords(-0.0555, 0.5)

leg = ax.legend(loc="upper left", bbox_to_anchor=(0.0345, 0.949), frameon=False,
                fontsize=19.2, handlelength=1.31, handletextpad=0.49, labelspacing=0.045,
                borderpad=0, borderaxespad=0)
for h in leg.get_lines():
    h.set_linewidth(2.4)

fig.savefig("out.png", dpi=200)
